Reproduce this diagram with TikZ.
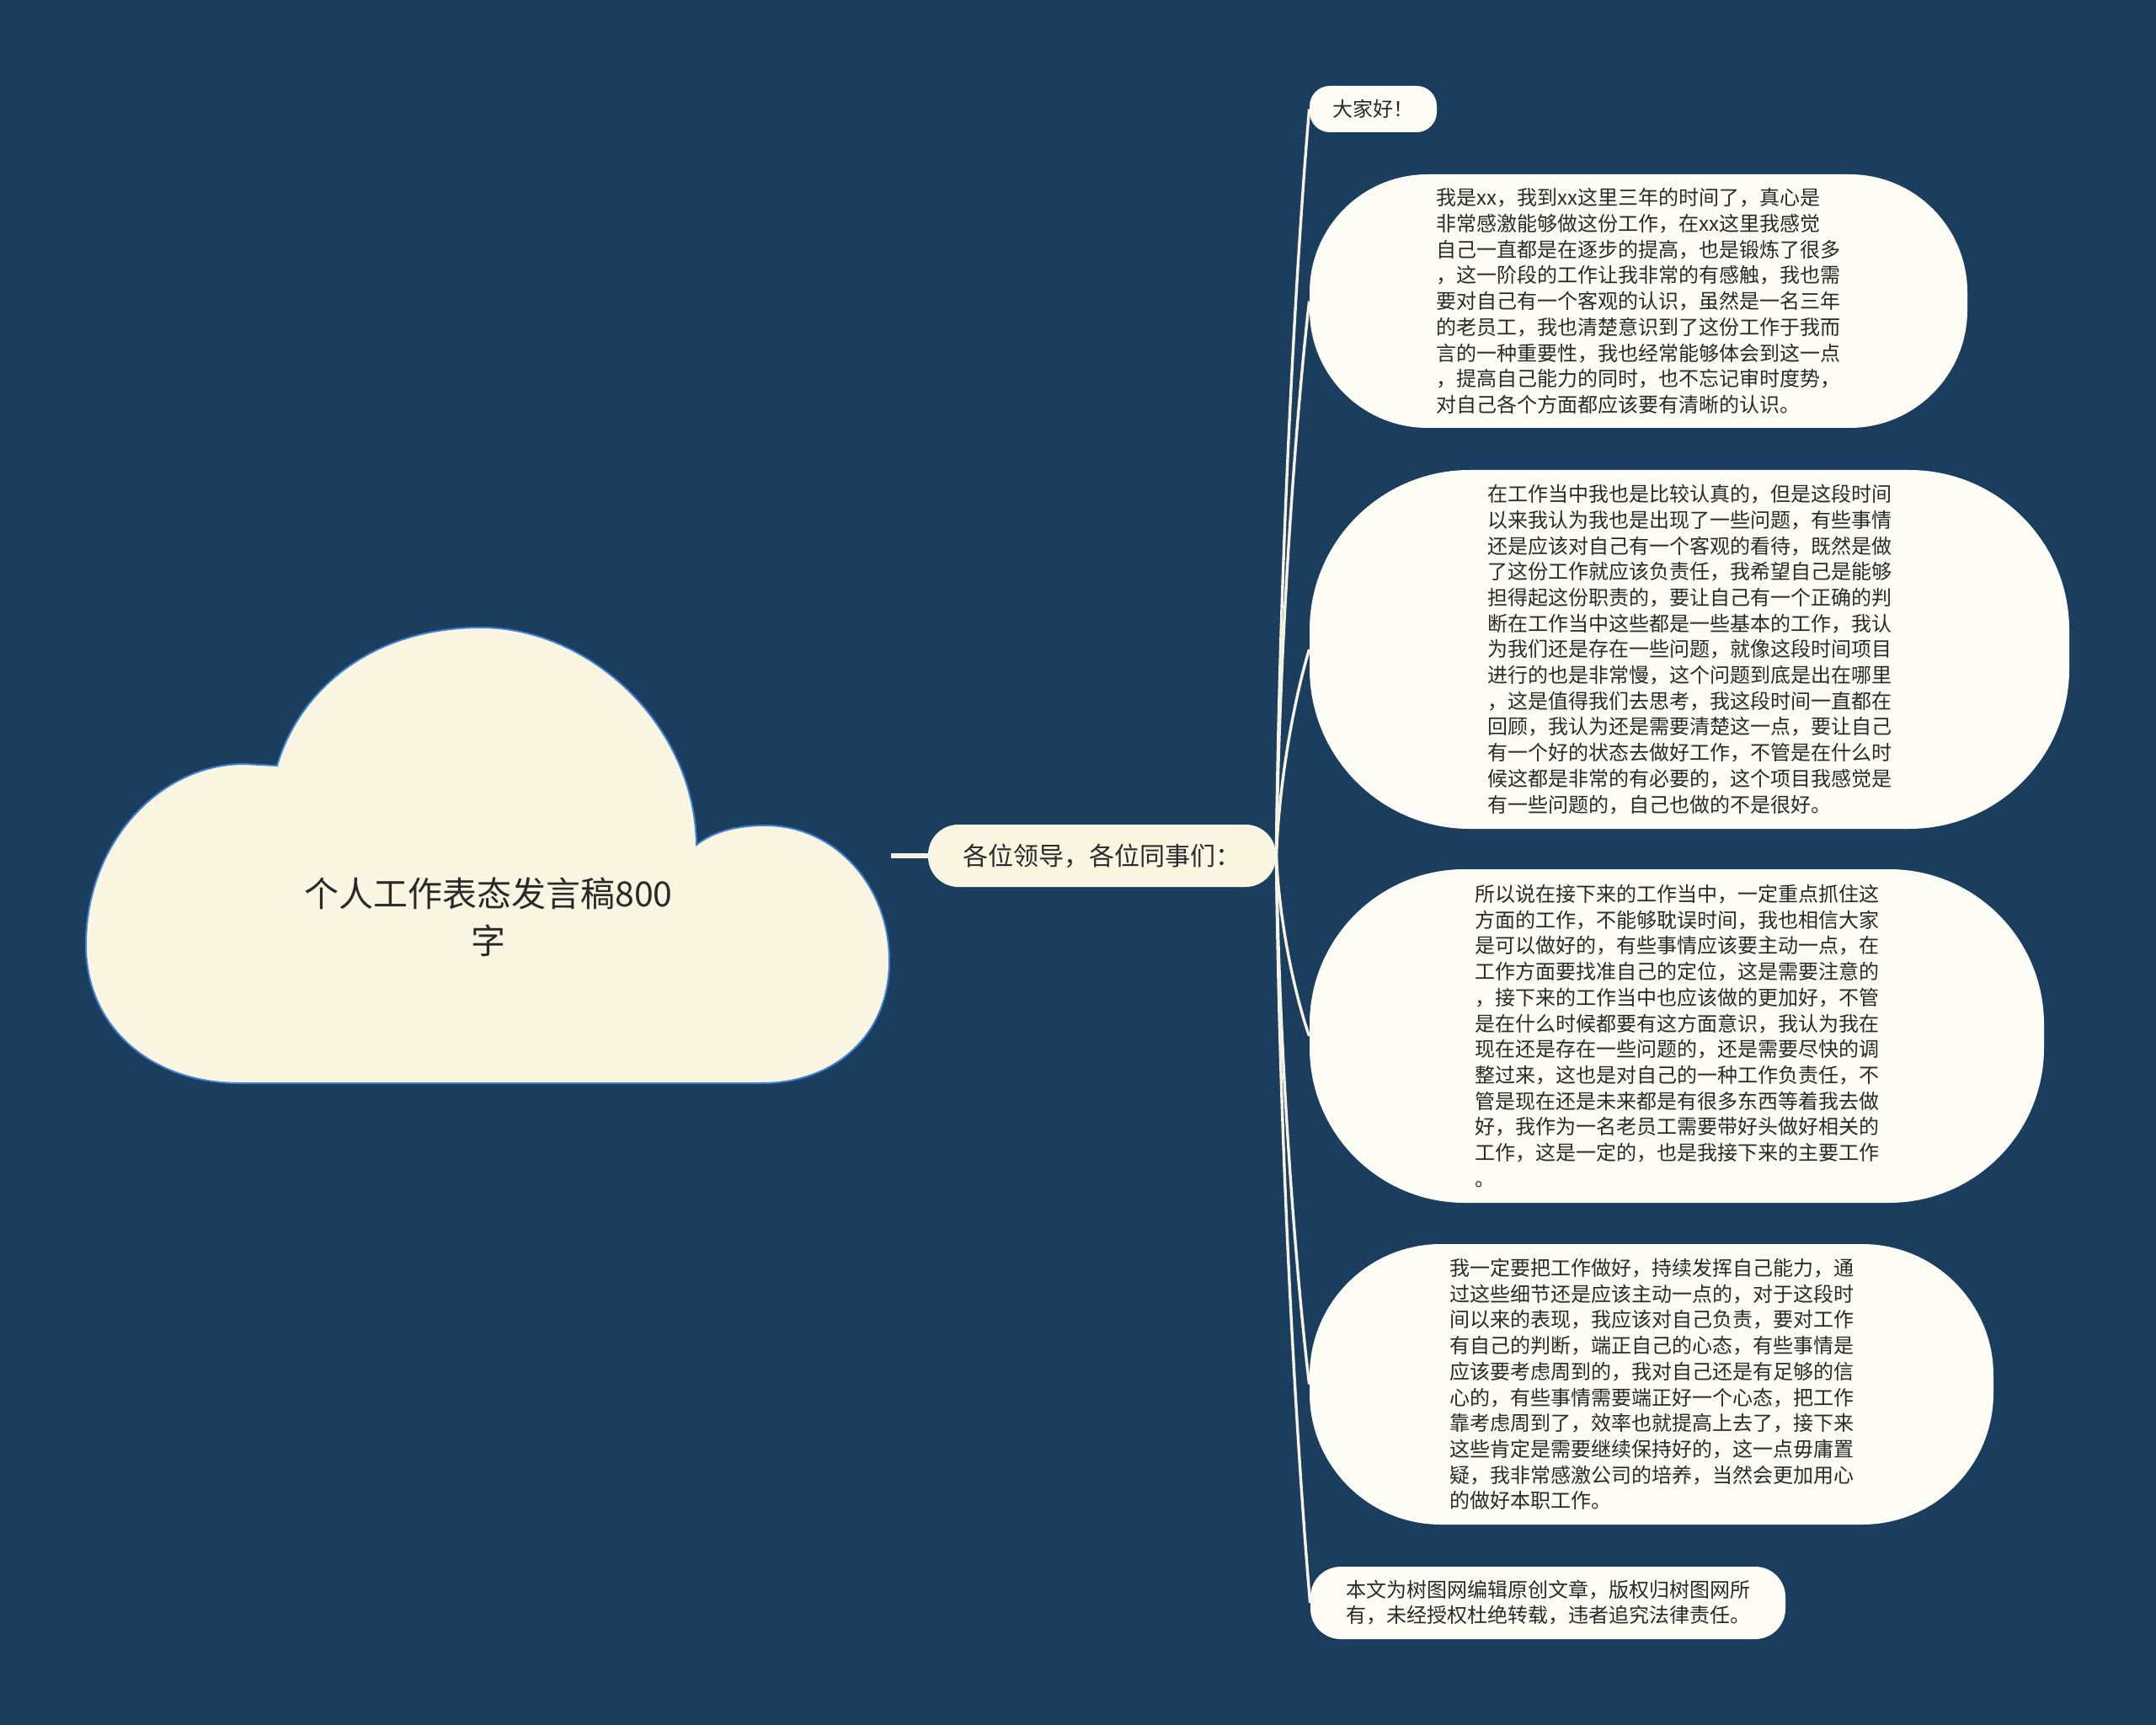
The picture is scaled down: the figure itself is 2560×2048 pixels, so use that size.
\documentclass[tikz,border=0pt]{standalone}
\usepackage{fontspec}
\setmainfont{Noto Sans CJK SC}
\definecolor{bgc}{HTML}{1B3D5E}
\definecolor{cream}{HTML}{FAF6E2}
\definecolor{leafc}{HTML}{FDFDF6}
\definecolor{cloudline}{HTML}{3F7FD0}
\definecolor{linec}{HTML}{F6F2E2}
\definecolor{txt}{HTML}{2A2A2A}
\pgfdeclarelayer{bg}
\pgfdeclarelayer{conn}
\pgfsetlayers{bg,conn,main}
\begin{document}
\begin{tikzpicture}[x=0.5pt,y=-0.5pt,
  leafbox/.style={fill=leafc, text=txt, inner sep=0pt, align=left,
    font=\fontsize{12pt}{15.35pt}\selectfont},
  hubbox/.style={fill=cream, text=txt, inner sep=0pt,
    minimum width=206.5pt, minimum height=37pt, rounded corners=18pt,
    font=\fontsize{15pt}{18pt}\selectfont},
  titletext/.style={text=txt, align=center, inner sep=0pt,
    font=\fontsize{20.5pt}{28pt}\selectfont},
  connline/.style={draw=linec, line width=1.7pt},
  rootline/.style={draw=linec, line width=2.8pt}]

\begin{pgfonlayer}{bg}
  \fill[bgc] (0,0) rectangle (2560,2048);
\end{pgfonlayer}
\useasboundingbox (0,0) rectangle (2560,2048);

% cloud (root)
\filldraw[fill=cream, draw=cloudline, line width=1pt]
  (329,909) .. controls (355,820) and (440,745) .. (571,745)
  .. controls (700,745) and (825,860) .. (827,1003)
  .. controls (850,985) and (880,980) .. (909,980)
  .. controls (990,980) and (1056,1050) .. (1056,1141)
  .. controls (1056,1230) and (990,1286) .. (905,1286)
  -- (284,1286)
  .. controls (180,1286) and (102,1220) .. (102,1122)
  .. controls (102,1000) and (190,907) .. (290,907) -- cycle;
\node[titletext] (title) at (580,1089) {个人工作表态发言稿800\\字};
\coordinate (cloudE) at (1058,1016);

% hub
\node[hubbox] (hub) at (1308.5,1016) {各位领导，各位同事们：};

% leaves
\node[leafbox, minimum width=75.5pt, minimum height=27.5pt, rounded corners=12pt]
  (n1) at (1630.5,129.5) {大家好！};

\node[leafbox, minimum width=390.5pt, minimum height=150.5pt, rounded corners=70pt]
  (n2) at (1945.5,357.5) {我是xx，我到xx这里三年的时间了，真心是\\
非常感激能够做这份工作，在xx这里我感觉\\
自己一直都是在逐步的提高，也是锻炼了很多\\
，这一阶段的工作让我非常的有感触，我也需\\
要对自己有一个客观的认识，虽然是一名三年\\
的老员工，我也清楚意识到了这份工作于我而\\
言的一种重要性，我也经常能够体会到这一点\\
，提高自己能力的同时，也不忘记审时度势，\\
对自己各个方面都应该要有清晰的认识。};

\node[leafbox, minimum width=451pt, minimum height=213pt, rounded corners=95pt]
  (n3) at (2006,771) {在工作当中我也是比较认真的，但是这段时间\\
以来我认为我也是出现了一些问题，有些事情\\
还是应该对自己有一个客观的看待，既然是做\\
了这份工作就应该负责任，我希望自己是能够\\
担得起这份职责的，要让自己有一个正确的判\\
断在工作当中这些都是一些基本的工作，我认\\
为我们还是存在一些问题，就像这段时间项目\\
进行的也是非常慢，这个问题到底是出在哪里\\
，这是值得我们去思考，我这段时间一直都在\\
回顾，我认为还是需要清楚这一点，要让自己\\
有一个好的状态去做好工作，不管是在什么时\\
候这都是非常的有必要的，这个项目我感觉是\\
有一些问题的，自己也做的不是很好。};

\node[leafbox, minimum width=436pt, minimum height=198pt, rounded corners=92pt]
  (n4) at (1991,1230) {所以说在接下来的工作当中，一定重点抓住这\\
方面的工作，不能够耽误时间，我也相信大家\\
是可以做好的，有些事情应该要主动一点，在\\
工作方面要找准自己的定位，这是需要注意的\\
，接下来的工作当中也应该做的更加好，不管\\
是在什么时候都要有这方面意识，我认为我在\\
现在还是存在一些问题的，还是需要尽快的调\\
整过来，这也是对自己的一种工作负责任，不\\
管是现在还是未来都是有很多东西等着我去做\\
好，我作为一名老员工需要带好头做好相关的\\
工作，这是一定的，也是我接下来的主要工作\\
。};

\node[leafbox, minimum width=406pt, minimum height=166.5pt, rounded corners=78pt]
  (n5) at (1961,1643.5) {我一定要把工作做好，持续发挥自己能力，通\\
过这些细节还是应该主动一点的，对于这段时\\
间以来的表现，我应该对自己负责，要对工作\\
有自己的判断，端正自己的心态，有些事情是\\
应该要考虑周到的，我对自己还是有足够的信\\
心的，有些事情需要端正好一个心态，把工作\\
靠考虑周到了，效率也就提高上去了，接下来\\
这些肯定是需要继续保持好的，这一点毋庸置\\
疑，我非常感激公司的培养，当然会更加用心\\
的做好本职工作。};

\node[leafbox, minimum width=282pt, minimum height=43pt, rounded corners=18pt,
  font=\fontsize{12pt}{15pt}\selectfont]
  (n6) at (1838,1903) {本文为树图网编辑原创文章，版权归树图网所\\
有，未经授权杜绝转载，违者追究法律责任。};

% connectors
\begin{pgfonlayer}{conn}
  \draw[rootline] (cloudE) -- (hub.west);
  \draw[connline] (hub.east) .. controls (1520,617) and (1543,262) .. (n1.west);
  \draw[connline] (hub.east) .. controls (1520,720) and (1543,456) .. (n2.west);
  \draw[connline] (hub.east) .. controls (1520,906) and (1543,808) .. (n3.west);
  \draw[connline] (hub.east) .. controls (1520,1112) and (1543,1198) .. (n4.west);
  \draw[connline] (hub.east) .. controls (1520,1298) and (1543,1549) .. (n5.west);
  \draw[connline] (hub.east) .. controls (1520,1415) and (1544,1770) .. (n6.west);
\end{pgfonlayer}
\end{tikzpicture}
\end{document}
